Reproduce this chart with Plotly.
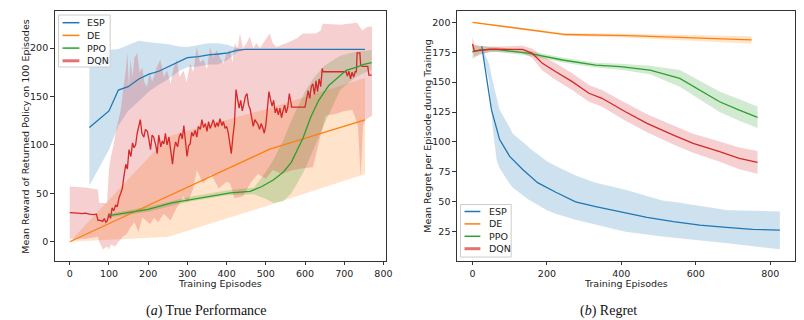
import plotly.graph_objects as go

# ---------------- Left chart: True Performance ----------------
esp_l_x = [50, 100, 124, 149, 176, 202, 227, 252, 278, 300, 328, 354, 379, 404, 425, 447, 500, 600, 700, 753]
esp_l_y = [118, 135, 156.6, 160, 168, 173, 176, 181, 186, 190, 191, 193, 193.8, 195, 197.6, 198.6, 198.6, 198.6, 198.6, 198.6]
esp_l_up = [186, 198, 199, 203, 207.5, 206, 205, 204, 201.5, 201, 203, 205, 205, 203, 200, 198.6, 198.6, 198.6, 198.6, 198.6]
esp_l_lo = [58, 95, 120, 135, 145, 155, 162, 168, 176, 180, 181, 183, 183, 188, 195, 198.6, 198.6, 198.6, 198.6, 198.6]

de_l_x = [0, 252, 510, 753]
de_l_y = [0, 47, 95.5, 125.7]
de_l_up = [0, 109, 138, 169]
de_l_lo = [0, 5, 38, 70]

ppo_l_x = [100, 150, 200, 260, 310, 360, 410, 460, 490, 520, 545, 565, 580, 595, 615, 635, 660, 685, 705, 730, 750, 770]
ppo_l_y = [27, 30, 33.5, 40, 43.5, 46.5, 50.5, 52, 57, 64, 72, 82, 95, 107, 129, 146, 161, 170, 177, 180, 183, 185]
ppo_lb_x = [100, 200, 300, 400, 470, 500, 520, 545, 565, 580, 600, 620, 650, 690, 730, 770]
ppo_l_up = [29, 36, 46, 53, 56, 72, 85, 105, 125, 138, 155, 168, 182, 192, 196, 198]
ppo_l_lo = [25, 31, 41, 48, 49, 44, 40, 42, 50, 60, 75, 93, 122, 157, 170, 178]

dqn_l_x = [0, 10, 20, 30, 40, 50, 60, 68, 72, 78, 84, 88, 92, 96, 100, 104, 108, 112, 117, 121, 126, 130, 134, 138,
           143, 147, 151, 156, 160, 164, 168, 172, 176, 180, 184, 189, 193, 198, 202, 206, 210, 214, 219, 223, 227,
           232, 236, 240, 244, 248, 253, 257, 262, 266, 270, 275, 279, 283, 287, 291, 295, 299, 303, 307, 311, 315,
           320, 324, 328, 333, 337, 341, 346, 350, 354, 358, 362, 366, 371, 375, 379, 383, 388, 392, 396, 400, 404,
           408, 412, 416, 420, 424, 428, 432, 436, 440, 444, 448, 452, 456, 460, 464, 468, 472, 476, 480, 484, 488,
           492, 496, 500, 504, 508, 512, 516, 520, 524, 528, 532, 536, 540, 544, 548, 552, 556, 560, 564, 566, 600,
           604, 608, 612, 616, 620, 624, 628, 632, 636, 640, 644, 646, 705, 708, 712, 716, 720, 724, 728, 731, 733,
           740, 742, 746, 760, 763, 770]
dqn_l_y = [30, 30, 29.5, 29, 29.5, 28.5, 28, 28.5, 22, 22, 21, 24, 20, 22, 29, 24, 35, 32, 38, 36, 46, 50, 55, 67,
           80, 75, 95, 88, 102, 97, 100, 112, 119, 126, 112, 108, 116, 114, 105, 95, 110, 108, 100, 91, 110,
           98, 104, 101, 112, 100, 108, 97, 80, 95, 103, 98, 108, 112, 106, 120, 107, 88, 99, 101, 113, 109,
           115, 108, 119, 116, 126, 118, 122, 114, 124, 117, 121, 126, 118, 123, 119, 127, 120, 124, 117, 119, 113,
           101, 91, 108, 122, 157, 149, 138, 146, 135, 142, 150, 153, 141, 137, 129, 119, 126, 124, 121, 116, 122,
           118, 112, 120, 140, 155, 147, 140, 146, 133, 138, 131, 138, 128, 135, 141, 133, 139, 153, 145, 139, 139,
           150, 156, 148, 160, 163, 152, 166, 155, 168, 160, 179, 175.5, 175.5, 171, 176, 168, 175, 170, 175.5, 175.5, 195,
           195, 182, 181, 181, 172, 172]

dqn_lu_x = [0, 40, 72, 75, 95, 100, 105, 112, 118, 124, 130, 137, 143, 147, 151, 155, 160, 165, 172, 178, 185, 190,
            197, 204, 210, 214, 222, 231, 240, 248, 257, 265, 273, 280, 290, 298, 307, 315, 324, 332, 341, 350, 358,
            366, 375, 383, 392, 400, 409, 415, 421, 428, 434, 442, 451, 459, 468, 476, 485, 493, 502, 510, 518, 527,
            552, 580, 594, 628, 640, 645, 690, 720, 733, 746, 760, 771]
dqn_l_up = [57, 56, 54, 40, 40, 75, 88, 100, 115, 125, 136, 160, 177, 195, 160, 188, 170, 190, 195, 175, 180, 165,
            160, 175, 165, 170, 180, 188, 170, 177, 163, 180, 188, 170, 177, 165, 184, 175, 201, 185, 188, 178, 201,
            190, 198, 190, 184, 195, 198, 185, 205, 200, 215, 200, 205, 212, 200, 205, 200, 205, 210, 215, 205, 201,
            205, 210, 215, 215, 218, 225, 224, 225, 226, 218, 222, 222]
dqn_ll_x = [0, 40, 72, 75, 85, 95, 100, 105, 115, 125, 135, 145, 155, 165, 175, 185, 195, 205, 215, 225, 240, 257,
            270, 290, 300, 315, 324, 340, 360, 380, 400, 409, 420, 442, 460, 480, 500, 518, 540, 569, 600, 620, 640,
            653, 680, 700, 721, 735, 742, 748, 754, 771]
dqn_l_lo = [3, 3, 5, 0, -8, -5, -8, -3, -5, 0, 5, 8, 15, 20, 10, 25, 22, 18, 25, 20, 29, 22,
            33, 47, 40, 55, 74, 60, 70, 55, 62, 60, 45, 47, 60, 70, 65, 74, 70, 74, 76, 77, 110,
            130, 132, 135, 136, 120, 67, 120, 126, 130]

# ---------------- Right chart: Regret ----------------
esp_r_x = [25, 37, 51, 73, 100, 135, 175, 224, 277, 331, 411, 469, 540, 611, 682, 753, 826]
esp_r_y = [180, 154, 127, 102, 88, 77, 66, 58, 50, 46, 41, 37, 33.4, 30.6, 28.7, 27, 26.4]
esp_rb_x = [25, 45, 55, 65, 73, 100, 108, 150, 153, 200, 224, 277, 331, 411, 510, 540, 686, 826]
esp_r_up = [180, 165, 150, 138, 127, 112, 107, 96, 95, 84, 80, 72, 66, 60, 51, 50, 43, 42]
esp_r_lo = [178, 150, 110, 85, 78, 65, 62, 52, 51.5, 43, 40, 35, 30.6, 25, 21, 20, 15.3, 10.3]

de_r_x = [0, 250, 420, 750]
de_r_y = [200, 189.8, 188.8, 185.3]
de_r_err = [0.3, 1.0, 1.6, 3.0]

ppo_r_x = [0, 20, 64, 153, 242, 331, 397, 477, 557, 611, 664, 717, 766]
ppo_r_y = [175.4, 177, 177.4, 174, 168.5, 164.3, 162.9, 160.1, 153.2, 143.4, 133.6, 126.7, 120.6]
ppo_r_err = [6, 3, 2, 2, 2, 2, 2.5, 3.5, 7, 8, 8.5, 9, 9]

dqn_r_x = [0, 5, 46, 135, 161, 188, 224, 268, 313, 348, 411, 469, 540, 593, 664, 717, 766]
dqn_r_y = [182, 176, 177.5, 177.4, 174, 165.7, 158.7, 150.4, 140.7, 136.5, 125.3, 115.6, 105.8, 98.9, 91.9, 86.3, 83]
dqn_r_err = [6, 5, 2, 3, 4, 6, 7, 7, 7, 7, 7.5, 7.5, 8, 8, 8.5, 9, 9.5]

names = ["ESP", "DE", "PPO", "DQN"]
colors = ["#1f77b4", "#ff7f0e", "#2ca02c", "#d62728"]
fills = ["rgba(31,119,180,0.22)", "rgba(255,127,14,0.22)", "rgba(44,160,44,0.22)", "rgba(214,39,40,0.22)"]

W, H = 804, 320
font = "DejaVu Sans"

fig = go.Figure()


def band(x_up, up, x_lo, lo, fc, xa, ya):
    fig.add_trace(go.Scatter(x=list(x_up) + list(x_lo)[::-1], y=list(up) + list(lo)[::-1],
                             fill="toself", fillcolor=fc, line=dict(width=0), mode="lines",
                             hoverinfo="skip", showlegend=False, xaxis=xa, yaxis=ya))


def line(x, y, c, xa, ya):
    fig.add_trace(go.Scatter(x=x, y=y, mode="lines", line=dict(color=c, width=1.3),
                             showlegend=False, xaxis=xa, yaxis=ya))


# left bands
band(esp_l_x, esp_l_up, esp_l_x, esp_l_lo, fills[0], "x", "y")
band(de_l_x, de_l_up, de_l_x, de_l_lo, fills[1], "x", "y")
band(ppo_lb_x, ppo_l_up, ppo_lb_x, ppo_l_lo, fills[2], "x", "y")
band(dqn_lu_x, dqn_l_up, dqn_ll_x, dqn_l_lo, fills[3], "x", "y")
line(esp_l_x, esp_l_y, colors[0], "x", "y")
line(de_l_x, de_l_y, colors[1], "x", "y")
line(dqn_l_x, dqn_l_y, colors[3], "x", "y")
line(ppo_l_x, ppo_l_y, colors[2], "x", "y")

# right bands
band(esp_rb_x, esp_r_up, esp_rb_x, esp_r_lo, fills[0], "x2", "y2")
band(de_r_x, [a + b for a, b in zip(de_r_y, de_r_err)], de_r_x, [a - b for a, b in zip(de_r_y, de_r_err)], fills[1], "x2", "y2")
band(ppo_r_x, [a + b for a, b in zip(ppo_r_y, ppo_r_err)], ppo_r_x, [a - b for a, b in zip(ppo_r_y, ppo_r_err)], fills[2], "x2", "y2")
band(dqn_r_x, [a + b for a, b in zip(dqn_r_y, dqn_r_err)], dqn_r_x, [a - b for a, b in zip(dqn_r_y, dqn_r_err)], fills[3], "x2", "y2")
line(esp_r_x, esp_r_y, colors[0], "x2", "y2")
line(de_r_x, de_r_y, colors[1], "x2", "y2")
line(ppo_r_x, ppo_r_y, colors[2], "x2", "y2")
line(dqn_r_x, dqn_r_y, colors[3], "x2", "y2")

# ---------- hand-built legends (matplotlib style, compact) ----------
shapes = []
annotations = []


def px(xp):
    return xp / W


def py(yp):
    return 1 - yp / H


def legend_box(x0, y0, x1, y1, ly0, step, lx0, lx1, tx):
    shapes.append(dict(type="rect", xref="paper", yref="paper", x0=px(x0), x1=px(x1), y0=py(y1), y1=py(y0),
                       line=dict(color="#cccccc", width=1), fillcolor="rgba(255,255,255,0.8)", layer="above"))
    for i, n in enumerate(names):
        yy = ly0 + i * step
        if n == "DQN":
            ln = dict(color="rgba(214,39,40,0.65)", width=3)
        else:
            ln = dict(color=colors[i], width=1.5)
        shapes.append(dict(type="line", xref="paper", yref="paper", x0=px(lx0), x1=px(lx1), y0=py(yy), y1=py(yy),
                           line=ln, layer="above"))
        annotations.append(dict(text=n, x=px(tx), y=py(yy), xref="paper", yref="paper", showarrow=False,
                                xanchor="left", yanchor="middle", font=dict(family=font, size=9.5, color="#222")))


legend_box(59, 15, 111, 67, 22.7, 12.7, 63, 80, 86)
legend_box(464, 204.5, 515, 257, 211.5, 12.4, 468, 484, 491)

annotations += [
    dict(text="Training Episodes", x=222 / W, y=1 - 283 / H, xref="paper", yref="paper", showarrow=False,
         font=dict(family=font, size=9.5, color="#222"), xanchor="center", yanchor="middle"),
    dict(text="Training Episodes", x=630.5 / W, y=1 - 283 / H, xref="paper", yref="paper", showarrow=False,
         font=dict(family=font, size=9.5, color="#222"), xanchor="center", yanchor="middle"),
    dict(text="Mean Reward of Returned Policy on 100 Episodes", x=25 / W, y=1 - 136 / H, xref="paper", yref="paper",
         showarrow=False, textangle=-90, font=dict(family=font, size=9.5, color="#222"), xanchor="center", yanchor="middle"),
    dict(text="Mean Regret per Episode during Training", x=430 / W, y=1 - 136 / H, xref="paper", yref="paper",
         showarrow=False, textangle=-90, font=dict(family=font, size=9.5, color="#222"), xanchor="center", yanchor="middle"),
    dict(text="(<i>a</i>) True Performance", x=208.5 / W, y=1 - 311 / H, xref="paper", yref="paper", showarrow=False,
         font=dict(family="Liberation Serif", size=14, color="#111"), xanchor="center", yanchor="middle"),
    dict(text="(<i>b</i>) Regret", x=613.5 / W, y=1 - 311 / H, xref="paper", yref="paper", showarrow=False,
         font=dict(family="Liberation Serif", size=14, color="#111"), xanchor="center", yanchor="middle"),
]

axcommon = dict(showline=True, mirror=True, linecolor="#333", linewidth=1, ticks="outside",
                ticklen=3.5, tickwidth=0.8, tickcolor="#333", showgrid=False, zeroline=False,
                tickfont=dict(family=font, size=9.5, color="#222"))

fig.update_layout(
    width=W, height=H, margin=dict(l=0, r=0, t=0, b=0),
    paper_bgcolor="white", plot_bgcolor="white", showlegend=False,
    xaxis=dict(domain=[55 / W, 389 / W], range=[-38.7, 806.8], tickvals=list(range(0, 801, 100)), anchor="y", **axcommon),
    yaxis=dict(domain=[1 - 260.7 / H, 1 - 11 / H], range=[-19.6, 238.2], tickvals=[0, 50, 100, 150, 200], anchor="x", **axcommon),
    xaxis2=dict(domain=[460.3 / W, 801 / W], range=[-41.9, 866.7], tickvals=[0, 200, 400, 600, 800], anchor="y2", **axcommon),
    yaxis2=dict(domain=[1 - 260.7 / H, 1 - 10.7 / H], range=[0.8, 209.7], tickvals=[25, 50, 75, 100, 125, 150, 175, 200], anchor="x2", **axcommon),
    shapes=shapes,
    annotations=annotations,
)

fig.write_html("out.html", config={"displayModeBar": False})
